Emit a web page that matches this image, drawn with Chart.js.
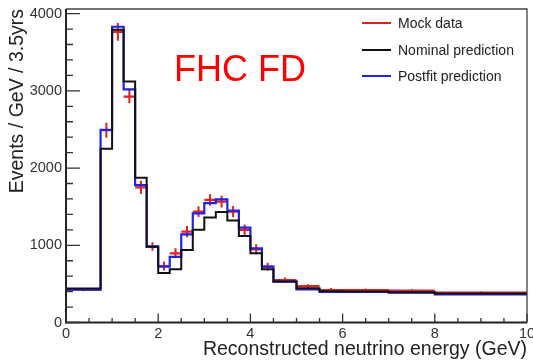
<!DOCTYPE html>
<html>
<head>
<meta charset="utf-8">
<script src="https://cdn.jsdelivr.net/npm/chart.js@4.4.1/dist/chart.umd.min.js"></script>
<style>
    html, body { margin: 0; padding: 0; background: #ffffff; }
</style>
</head>
<body>
<canvas id="grafica_fd" width="533" height="361"></canvas>
<script>
// Espectro de energia reconstruida en el detector lejano (FHC).

// Bordes de los bins (GeV).
var binEdges = [0, 0.75, 1, 1.25, 1.5, 1.75, 2, 2.25, 2.5, 2.75, 3, 3.25,
    3.5, 3.75, 4, 4.25, 4.5, 5, 5.5, 6, 7, 8, 10];

// Valores por bin (eventos / GeV / 3.5 años).
var mockValues = [425, 2490, 3765, 2925, 1751, 985, 732, 896, 1176, 1435,
    1587, 1565, 1435, 1198, 948, 723, 550, 470, 421, 421, 412, 386];
var mockErrors = [20, 97, 115, 86, 86, 55, 58, 65, 73, 70, 75, 75, 73, 70,
    65, 52, 32, 25, 25, 20, 20, 15];
var nominalValues = [440, 2250, 3790, 3120, 1876, 982, 640, 690, 940, 1200,
    1360, 1430, 1320, 1120, 896, 690, 530, 445, 405, 400, 392, 375];
var postfitValues = [425, 2495, 3830, 3020, 1780, 982, 723, 850, 1142, 1414,
    1545, 1595, 1448, 1228, 961, 723, 529, 430, 395, 395, 386, 365];

var seriesNames = ['Mock data', 'Nominal prediction', 'Postfit prediction'];
var xTicks = [0, 2, 4, 6, 8, 10];
var yTicks = [0, 1000, 2000, 3000, 4000];
var xTitle = 'Reconstructed neutrino energy (GeV)';
var yTitle = 'Events / GeV / 3.5yrs';
var panelLabel = 'FHC FD';

var red = '#dd2222';
var black = '#111111';
var blue = '#2222e6';
var fontFamily = '"Liberation Sans", Arial, Helvetica, sans-serif';

// Puntos para dibujar un histograma escalonado.
function stepPoints(values) {
    var pts = [];
    for (var i = 0; i < values.length; i++) {
        pts.push({ x: binEdges[i], y: values[i] });
    }
    pts.push({ x: binEdges[values.length], y: values[values.length - 1] });
    return pts;
}

// Barras horizontales de los datos (ancho del bin).
function crossHorizontal(values) {
    var pts = [];
    for (var i = 0; i < values.length; i++) {
        pts.push({ x: binEdges[i], y: values[i] });
        pts.push({ x: binEdges[i + 1], y: values[i] });
        pts.push({ x: binEdges[i + 1], y: null });
    }
    return pts;
}

// Barras verticales de error de los datos.
function crossVertical(values, errors) {
    var pts = [];
    for (var i = 0; i < values.length; i++) {
        var c = (binEdges[i] + binEdges[i + 1]) / 2;
        pts.push({ x: c, y: values[i] - errors[i] });
        pts.push({ x: c, y: values[i] + errors[i] });
        pts.push({ x: c, y: null });
    }
    return pts;
}

function lineDataSet(label, data, color, stepped, width) {
    return {
        label: label,
        data: data,
        borderColor: color,
        backgroundColor: color,
        borderWidth: width,
        pointRadius: 0,
        fill: false,
        stepped: stepped,
        spanGaps: false,
        tension: 0
    };
}

// Marco, marcas internas, leyenda y etiqueta del panel (estilo ROOT).
var rootStyle = {
    id: 'rootStyle',
    afterDatasetsDraw: function (chart) {
        var ctx = chart.ctx;
        var a = chart.chartArea;
        var xs = chart.scales.x;
        var ys = chart.scales.y;
        var v, p, len;

        ctx.save();
        ctx.lineCap = 'butt';

        // marco
        ctx.strokeStyle = '#444444';
        ctx.lineWidth = 1.3;
        ctx.beginPath();
        ctx.moveTo(a.left, a.top);
        ctx.lineTo(a.right, a.top);
        ctx.lineTo(a.right, a.bottom);
        ctx.stroke();
        ctx.strokeStyle = '#222222';
        ctx.lineWidth = 2;
        ctx.beginPath();
        ctx.moveTo(a.left, a.top);
        ctx.lineTo(a.left, a.bottom);
        ctx.lineTo(a.right, a.bottom);
        ctx.stroke();

        // marcas del eje y
        ctx.lineWidth = 1.3;
        ctx.strokeStyle = '#333333';
        ctx.beginPath();
        for (v = 0; v <= 4000; v += 200) {
            p = ys.getPixelForValue(v);
            len = v % 1000 === 0 ? 14 : 7;
            ctx.moveTo(a.left, p);
            ctx.lineTo(a.left + len, p);
        }
        // marcas del eje x
        for (v = 0; v <= 10; v += 0.5) {
            p = xs.getPixelForValue(v);
            len = v % 2 === 0 ? 9 : 4.5;
            ctx.moveTo(p, a.bottom);
            ctx.lineTo(p, a.bottom - len);
        }
        ctx.stroke();

        // leyenda
        var colors = [red, black, blue];
        var rowsY = [23, 50, 76];
        ctx.font = '14px ' + fontFamily;
        ctx.textBaseline = 'middle';
        ctx.textAlign = 'left';
        for (var i = 0; i < seriesNames.length; i++) {
            ctx.strokeStyle = colors[i];
            ctx.lineWidth = 2;
            ctx.beginPath();
            ctx.moveTo(362, rowsY[i]);
            ctx.lineTo(391, rowsY[i]);
            ctx.stroke();
            ctx.fillStyle = '#222222';
            ctx.fillText(seriesNames[i], 398, rowsY[i] + 1);
        }

        // etiqueta del panel
        ctx.fillStyle = '#ff0000';
        ctx.font = '36px ' + fontFamily;
        ctx.textBaseline = 'alphabetic';
        ctx.fillText(panelLabel, 174, 81);
        ctx.restore();
    }
};

var context = document.getElementById('grafica_fd').getContext('2d');

var datasets = [];
datasets.push(lineDataSet(seriesNames[1], stepPoints(nominalValues), black, true, 2));
datasets.push(lineDataSet(seriesNames[2], stepPoints(postfitValues), blue, true, 2.2));
datasets.push(lineDataSet(seriesNames[0], crossHorizontal(mockValues), red, false, 2.2));
datasets.push(lineDataSet(seriesNames[0] + ' err', crossVertical(mockValues, mockErrors), red, false, 2));

function plainLabel(value) {
    return String(value);
}

var chart = new Chart(context, {
    type: 'line',
    data: { datasets: datasets },
    plugins: [rootStyle],
    options: {
        responsive: false,
        animation: false,
        layout: { padding: { top: 9, right: 6, bottom: 0, left: 0 } },
        plugins: {
            legend: { display: false },
            tooltip: { enabled: false }
        },
        scales: {
            x: {
                type: 'linear',
                min: 0,
                max: 10,
                grid: { display: false, drawTicks: false },
                border: { display: false },
                afterBuildTicks: function (scale) {
                    scale.ticks = xTicks.map(function (t) { return { value: t }; });
                },
                afterFit: function (scale) {
                    scale.height = 38.5;
                    scale.paddingLeft = 0;
                    scale.paddingRight = 0;
                },
                ticks: {
                    padding: 3,
                    maxRotation: 0,
                    autoSkip: false,
                    color: '#333333',
                    callback: plainLabel,
                    font: { family: fontFamily, size: 14.5 }
                },
                title: {
                    display: true,
                    text: xTitle,
                    align: 'end',
                    color: '#222222',
                    padding: { top: 0, bottom: 0 },
                    font: { family: fontFamily, size: 19.5 }
                }
            },
            y: {
                type: 'linear',
                min: 0,
                max: 4060,
                grid: { display: false, drawTicks: false },
                border: { display: false },
                afterBuildTicks: function (scale) {
                    scale.ticks = yTicks.map(function (t) { return { value: t }; });
                },
                afterFit: function (scale) {
                    scale.width = 66;
                    scale.paddingTop = 0;
                    scale.paddingBottom = 0;
                },
                ticks: {
                    padding: 4,
                    autoSkip: false,
                    color: '#333333',
                    callback: plainLabel,
                    font: { family: fontFamily, size: 14.5 }
                },
                title: {
                    display: true,
                    text: yTitle,
                    align: 'end',
                    color: '#222222',
                    padding: { top: 6, bottom: 0 },
                    font: { family: fontFamily, size: 19.5 }
                }
            }
        }
    }
});
</script>
</body>
</html>
